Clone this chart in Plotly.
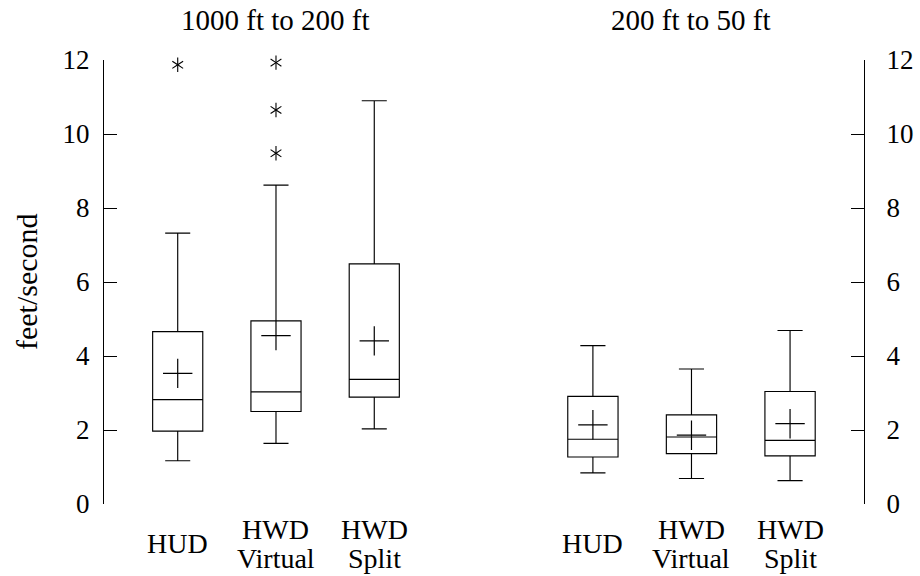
import plotly.graph_objects as go

# Categories shown under each group of boxes
categories = ["HUD", "HWD Virtual", "HWD Split"]
category_lines = [["HUD"], ["HWD", "Virtual"], ["HWD", "Split"]]

# Segment 1: 1000 ft to 200 ft
high_lower = [1.17, 1.64, 2.03]
high_q1 = [1.97, 2.50, 2.89]
high_median = [2.82, 3.03, 3.37]
high_q3 = [4.66, 4.95, 6.49]
high_upper = [7.32, 8.62, 10.90]
high_mean = [3.53, 4.55, 4.41]
high_outlier_cat = ["HUD", "HWD Virtual", "HWD Virtual", "HWD Virtual"]
high_outlier_val = [11.87, 11.93, 10.65, 9.48]

# Segment 2: 200 ft to 50 ft
low_lower = [0.84, 0.69, 0.63]
low_q1 = [1.27, 1.36, 1.30]
low_median = [1.75, 1.81, 1.72]
low_q3 = [2.91, 2.41, 3.04]
low_upper = [4.28, 3.65, 4.69]
low_mean = [2.14, 1.86, 2.17]

y_ticks = [0, 2, 4, 6, 8, 10, 12]
panel_titles = ["1000 ft to 200 ft", "200 ft to 50 ft"]
y_title = "feet/second"

FONT = "Liberation Serif, DejaVu Serif, serif"
FS = 28
INK = "black"

fig = go.Figure()


def add_panel(xa, ya, lower, q1, med, q3, upper, mean, out_cat=None, out_val=None):
    fig.add_trace(go.Box(
        x=categories, q1=q1, median=med, q3=q3,
        lowerfence=lower, upperfence=upper,
        width=0.51, whiskerwidth=0.5,
        line=dict(color=INK, width=1.15),
        fillcolor="rgba(0,0,0,0)",
        boxpoints=False, hoverinfo="skip",
        xaxis=xa, yaxis=ya, showlegend=False,
    ))
    fig.add_trace(go.Scatter(
        x=categories, y=mean, mode="markers",
        marker=dict(symbol="cross-thin-open", size=21, color=INK,
                    line=dict(color=INK, width=1.2)),
        xaxis=xa, yaxis=ya, showlegend=False, hoverinfo="skip",
    ))
    if out_cat:
        # six-armed asterisk built from two overlaid Y glyphs
        for sym in ("y-up-open", "y-down-open"):
            fig.add_trace(go.Scatter(
                x=out_cat, y=out_val, mode="markers",
                marker=dict(symbol=sym, size=9, color=INK,
                            line=dict(color=INK, width=1.1)),
                xaxis=xa, yaxis=ya, showlegend=False, hoverinfo="skip",
                cliponaxis=False,
            ))


add_panel("x", "y", high_lower, high_q1, high_median, high_q3, high_upper,
          high_mean, high_outlier_cat, high_outlier_val)
add_panel("x2", "y2", low_lower, low_q1, low_median, low_q3, low_upper, low_mean)

x_common = dict(type="category", categoryorder="array", categoryarray=categories,
                range=[-0.75, 2.75], showgrid=False, zeroline=False,
                showline=False, ticks="", showticklabels=False, fixedrange=True,
                automargin=False)
y_common = dict(range=[0, 12], tickvals=y_ticks, showgrid=False, zeroline=False,
                showline=True, linecolor=INK, linewidth=1.15,
                ticks="inside", ticklen=13, tickwidth=1.15, tickcolor=INK,
                tickfont=dict(family=FONT, size=27, color=INK),
                fixedrange=True, automargin=False)

fig.update_layout(
    width=920, height=576,
    margin=dict(l=104, r=56, t=60, b=72),
    paper_bgcolor="white", plot_bgcolor="white",
    font=dict(family=FONT, size=FS, color=INK),
    xaxis=dict(domain=[0, 0.4526], anchor="y", **x_common),
    xaxis2=dict(domain=[0.546, 1], anchor="y2", **x_common),
    yaxis=dict(anchor="x", side="left", ticklabelstandoff=8, **y_common),
    yaxis2=dict(anchor="x2", side="right", ticklabelstandoff=16, **y_common),
)

annotations = []
for xref, title in zip(("x", "x2"), panel_titles):
    annotations.append(dict(text=title, x=1, xref=xref, y=1, yref="paper",
                            yanchor="middle", yshift=40, showarrow=False,
                            font=dict(family=FONT, size=29, color=INK)))
    for cat, lines in zip(categories, category_lines):
        shifts = [-39] if len(lines) == 1 else [-25, -54]
        for line, dy in zip(lines, shifts):
            annotations.append(dict(text=line, x=cat, xref=xref, y=0, yref="paper",
                                    yanchor="middle", yshift=dy, showarrow=False,
                                    font=dict(family=FONT, size=FS, color=INK)))
annotations.append(dict(text=y_title, x=0, xref="paper", xshift=-78,
                        y=0.5, yref="paper", textangle=-90, showarrow=False,
                        xanchor="center", yanchor="middle",
                        font=dict(family=FONT, size=30, color=INK)))
fig.update_layout(annotations=annotations)

fig.write_html("out.html", config={"displayModeBar": False})
